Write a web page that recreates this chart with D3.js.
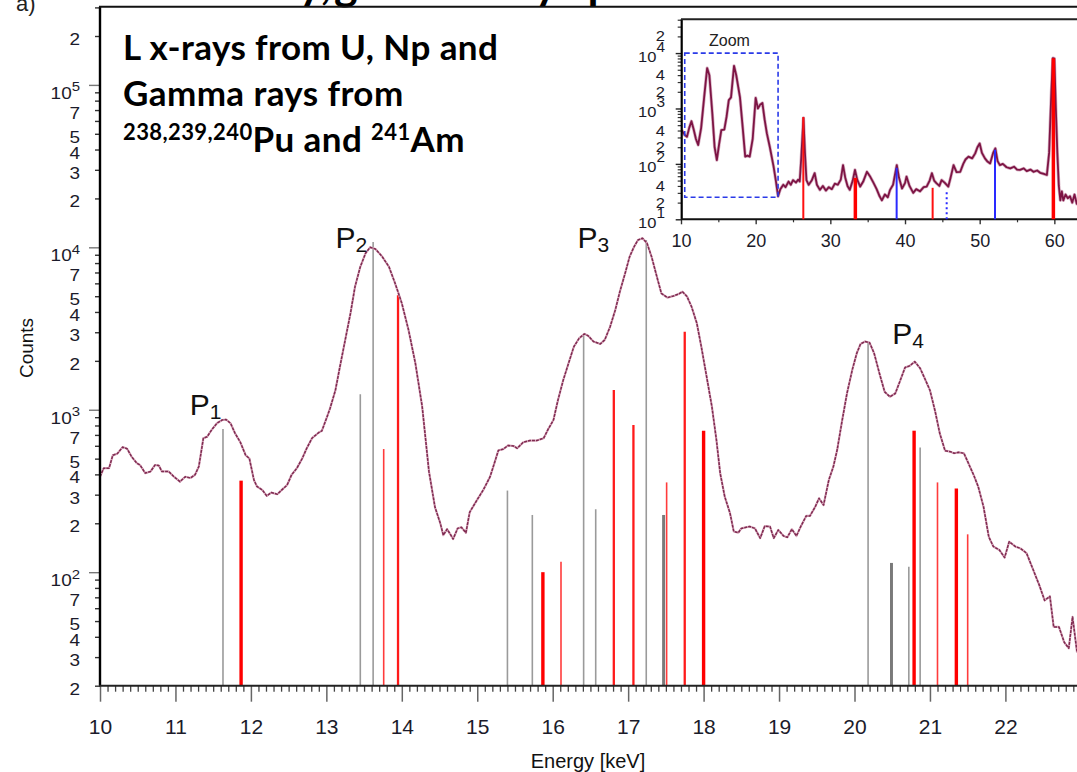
<!DOCTYPE html>
<html><head><meta charset="utf-8">
<script src="https://cdn.jsdelivr.net/npm/d3@7/dist/d3.min.js"></script>
<style>body{margin:0;background:#fff}svg{display:block}</style>
</head><body><svg id="c" width="1077" height="772"></svg>
<script>
// ---------------- main spectrum (energy keV, counts) ----------------
const specEnergy = [10.0,10.05,10.12,10.17,10.23,10.30,10.36,10.42,10.49,10.53,10.60,10.67,10.73,10.78,10.82,10.91,10.98,11.06,11.13,11.20,11.26,11.31,11.37,11.42,11.48,11.55,11.62,11.67,11.73,11.79,11.86,11.93,11.98,12.04,12.08,12.15,12.21,12.27,12.35,12.41,12.48,12.54,12.61,12.68,12.74,12.81,12.90,12.94,13.01,13.05,13.12,13.18,13.25,13.32,13.38,13.45,13.52,13.58,13.65,13.74,13.83,13.91,14.00,14.09,14.18,14.27,14.36,14.44,14.51,14.55,14.60,14.65,14.68,14.74,14.79,14.85,14.90,14.99,15.08,15.17,15.24,15.28,15.34,15.41,15.48,15.53,15.61,15.70,15.79,15.88,15.94,16.01,16.07,16.14,16.21,16.28,16.35,16.42,16.47,16.54,16.63,16.69,16.76,16.83,16.89,16.96,17.02,17.08,17.13,17.19,17.25,17.31,17.38,17.44,17.52,17.60,17.67,17.72,17.78,17.84,17.91,17.97,18.04,18.11,18.17,18.22,18.28,18.35,18.40,18.46,18.50,18.61,18.68,18.75,18.81,18.88,18.93,18.99,19.06,19.11,19.17,19.23,19.29,19.36,19.41,19.48,19.53,19.59,19.66,19.72,19.77,19.83,19.90,19.97,20.03,20.08,20.14,20.20,20.26,20.33,20.40,20.47,20.54,20.60,20.67,20.73,20.80,20.87,20.93,21.00,21.07,21.13,21.20,21.27,21.32,21.38,21.45,21.51,21.58,21.64,21.71,21.78,21.84,21.92,21.99,22.05,22.13,22.20,22.28,22.37,22.45,22.52,22.59,22.64,22.71,22.78,22.84,22.89,22.95];
const specCounts = [387,437,437,525,537,589,575,513,468,457,407,417,457,453,417,417,387,361,387,380,398,447,668,682,752,826,865,871,826,716,631,525,501,370,337,321,295,309,302,321,344,398,437,501,579,668,724,741,906,1023,1318,1841,2692,3926,5728,7586,9204,10000,9772,8770,7586,6026,4529,3090,1932,1047,417,251,200,169,184,169,160,186,189,175,234,275,321,387,490,562,571,603,598,579,631,646,646,668,759,865,1148,1524,1932,2443,2754,2931,2851,2630,2541,2692,3236,4121,5333,6918,8770,10116,11092,11376,10593,8770,6607,5212,4898,5012,5164,5333,4977,4315,3412,2443,1600,1045,652,406,292,231,178,175,186,191,186,162,192,191,162,182,167,164,184,167,192,222,222,253,285,259,370,447,565,826,1259,1758,2228,2541,2630,2588,2228,1679,1288,1202,1259,1489,1820,1862,1977,1799,1563,1318,973,716,560,552,540,547,540,468,396,336,253,165,144,137,123,154,144,140,131,103,83,67,71,46,46,37,34,53,32];

// emission lines (energy keV, relative counts)
const grayLineE = [11.63,13.45,13.62,15.40,15.73,16.41,16.57,17.24,20.18,20.72,20.87];
const grayLineC = [760,1245,10800,318,225,2880,244,11100,2630,108,585];
const grayBoldE = [17.47,20.49];
const grayBoldC = [225,114];
const redThickE = [11.87,15.87,18.00,20.79,21.35];
const redThickC = [366,100,743,743,328];
const redMedE = [13.95,16.81,17.07,17.75];
const redMedC = [5070,1325,806,3020];
const redThinE = [13.76,16.11,17.51,21.10,21.50];
const redThinC = [573,116,357,357,171];

// peak labels
const peakNames = ["1","2","3","4"];
const peakE = [11.19,13.12,16.33,20.50];
const peakC = [929,9860,9860,2541];

// axis ticks
const xTickLabels = [10,11,12,13,14,15,16,17,18,19,20,21,22];
const yTickLabels = [2e5,1e5,7e4,5e4,4e4,3e4,2e4,1e4,7e3,5e3,4e3,3e3,2e3,1e3,700,500,400,300,200,100,70,50,40,30,20];

// ---------------- inset spectrum ----------------
const insetEnergy = [10.1,10.5,10.8,11.1,11.4,11.7,12.0,12.3,12.7,13.1,13.5,13.8,14.2,14.5,14.8,15.1,15.4,15.8,16.1,16.4,16.7,17.1,17.4,17.9,18.3,18.6,18.9,19.2,19.6,20.0,20.3,20.6,20.9,21.2,21.5,21.9,22.4,22.7,23.0,23.3,23.7,24.0,24.4,24.7,25.0,25.4,25.7,25.9,26.1,26.4,26.6,26.8,27.1,27.5,27.9,28.2,28.6,29.0,29.4,29.8,30.2,30.6,31.0,31.4,31.7,32.0,32.3,32.6,33.0,33.3,33.6,34.0,34.4,34.9,35.3,35.8,36.2,36.6,36.9,37.3,37.7,38.0,38.4,38.9,39.2,39.6,40.0,40.2,40.6,41.1,41.5,42.0,42.5,42.9,43.3,43.6,43.9,44.2,44.6,44.9,45.3,45.8,46.1,46.5,46.9,47.4,47.8,48.1,48.5,49.0,49.4,49.7,50.0,50.3,50.7,51.0,51.4,51.8,52.1,52.4,52.7,53.1,53.6,54.1,54.6,55.0,55.4,55.9,56.3,56.8,57.2,57.7,58.1,58.6,59.0,59.3,59.6,59.8,60.0,60.2,60.4,60.6,60.8,61.0,61.2,61.5,61.8,62.1,62.4,62.7,63.0,63.3];
const insetCounts = [407,331,309,447,589,417,282,219,447,1585,5370,3981,794,200,117,224,407,417,708,1413,1585,5888,3981,1585,398,135,141,135,282,1549,1000,1175,1259,631,355,200,89,50,26,35,42,38,48,42,51,46,52,48,126,676,158,51,42,50,68,42,34,40,33,38,35,44,42,52,95,56,40,34,50,78,52,39,48,72,60,45,35,26,22,28,25,34,42,95,56,36,45,59,40,30,35,32,38,39,50,68,50,45,40,51,46,39,56,95,71,72,100,120,135,126,155,200,234,158,126,112,102,158,191,112,95,100,87,83,89,79,78,83,74,79,72,76,69,66,63,158,1995,8128,7943,1000,158,40,22,32,22,28,24,26,20,28,19,25];
const insetRedE = [26.38,43.7];
const insetRedC = [700,37];
const insetRedBoldE = [33.35,59.87];
const insetRedBoldC = [56,8100];
const insetBlueE = [38.88,52.05];
const insetBlueC = [85,180];
const insetBlueDotE = [45.58];
const insetBlueDotC = [34];
const zoomBoxE = [10.5,23.0];
const zoomBoxC = [25,10000];
const insetXTickLabels = [10,20,30,40,50,60];
const insetYTickLabels = [2e4,1e4,4e3,2e3,1e3,400,200,100,40,20,10];

// ---------------- drawing ----------------
const svg = d3.select("#c");
svg.append("rect").attr("width",1077).attr("height",772).attr("fill","#fff");
const AX = "Liberation Sans, Arial, sans-serif";

const x = d3.scaleLinear().domain([10,23.5]).range([100,100+13.5*75.45]);
const y = d3.scaleLog().domain([20,3.03e5]).range([685.7,6.7]);
const y0 = y(20);

function labelParts(v){
  const e = Math.log10(v);
  if (Math.abs(e-Math.round(e))<1e-9) return {base:"10",sup:String(Math.round(e))};
  const lead = Math.round(v/Math.pow(10,Math.floor(e)));
  return {base:String(lead),sup:null};
}

// cut-off heading & panel letter
svg.append("text").attr("x",16).attr("y",11).attr("font-family",AX).attr("font-size",22).attr("fill","#222").text("a)");
svg.append("text").attr("x",331).attr("y",-1).attr("text-anchor","end").attr("font-family","Lato, sans-serif").attr("font-weight",700).attr("font-size",45).text("L x-ray,");
svg.append("text").attr("x",334).attr("y",-1).attr("font-family","Lato, sans-serif").attr("font-weight",700).attr("font-size",45).text("gamma-ray spectrum");

// main y ticks
const yMinor = [];
[10,100,1000,10000,100000].forEach(d=>{for(let k=2;k<=9;k++){const v=d*k; if(v>=20&&v<=3.03e5) yMinor.push(v);} });
const yMajor = [100,1000,10000,100000];
const gy = svg.append("g").attr("transform","translate(100,0)");
gy.call(d3.axisLeft(y).tickValues(yMinor).tickSize(5).tickFormat(""));
gy.call(g=>g.selectAll(".tick line").attr("stroke","#333").attr("stroke-width",1.4));
const gy2 = svg.append("g").attr("transform","translate(100,0)");
gy2.call(d3.axisLeft(y).tickValues(yMajor).tickSize(11).tickFormat(""));
gy2.call(g=>g.selectAll(".tick line").attr("stroke","#777").attr("stroke-width",1.4));
svg.selectAll(".domain").remove();

yTickLabels.forEach(v=>{
  const p = labelParts(v);
  const ty = y(v);
  const t = svg.append("text").attr("text-anchor","end").attr("font-family",AX).attr("fill","#1b1b2a")
    .attr("transform",`translate(80,${p.sup? ty+14: ty+9}) scale(1.15,1)`).attr("font-size",16.5);
  t.append("tspan").text(p.base);
  if (p.sup) t.append("tspan").attr("dy",-7.5).attr("font-size",13).text(p.sup);
});

// main x ticks
const xMinor = d3.range(100,235).map(i=>i/10).filter(v=>Math.abs(v-Math.round(v))>1e-6);
const gx = svg.append("g").attr("transform",`translate(0,${y0})`);
gx.call(d3.axisBottom(x).tickValues(xMinor).tickSize(6).tickFormat(""));
gx.call(g=>{g.select(".domain").remove(); g.selectAll(".tick line").attr("stroke","#444").attr("stroke-width",1.3);});
const gx2 = svg.append("g").attr("transform",`translate(0,${y0})`);
gx2.call(d3.axisBottom(x).tickValues(xTickLabels).tickSize(16).tickPadding(17.5).tickFormat(d3.format("d")));
gx2.call(g=>{g.select(".domain").remove(); g.selectAll(".tick line").attr("stroke","#666").attr("stroke-width",1.5);
  g.selectAll(".tick text").attr("font-family",AX).attr("font-size",21).attr("fill","#1b1b2a");});

// vertical emission lines
function vlines(E,C,color,w,dash,xs,ys,base){
  E.forEach((e,i)=>{
    const l = svg.append("line").attr("x1",xs(e)).attr("x2",xs(e)).attr("y1",base).attr("y2",ys(C[i]))
      .attr("stroke",color).attr("stroke-width",w);
    if (dash) l.attr("stroke-dasharray",dash);
  });
}
vlines(grayLineE,grayLineC,"#9a9a9a",1.6,null,x,y,y0);
vlines(grayBoldE,grayBoldC,"#7a7a7a",3,null,x,y,y0);
vlines(redThinE,redThinC,"#ff3b3b",1.6,null,x,y,y0);
vlines(redMedE,redMedC,"#ff1a1a",2.3,null,x,y,y0);
vlines(redThickE,redThickC,"#ff0000",3.4,null,x,y,y0);

// main curve
const line = d3.line().x(d=>x(d[0])).y(d=>y(d[1]));
svg.append("path").datum(specEnergy.map((e,i)=>[e,specCounts[i]]))
  .attr("d",line).attr("fill","none").attr("stroke","#d9a9bd").attr("stroke-width",2.2).attr("stroke-linejoin","round");
svg.append("path").datum(specEnergy.map((e,i)=>[e,specCounts[i]]))
  .attr("d",line).attr("fill","none").attr("stroke","#7e2a50").attr("stroke-width",1.5).attr("stroke-dasharray","3,1").attr("stroke-linejoin","round");

// frame
svg.append("line").attr("x1",100).attr("x2",100).attr("y1",y(3.03e5)).attr("y2",y0).attr("stroke","#000").attr("stroke-width",2.4);
svg.append("line").attr("x1",99).attr("x2",1077).attr("y1",y(3.03e5)).attr("y2",y(3.03e5)).attr("stroke","#111").attr("stroke-width",2);
svg.append("line").attr("x1",99).attr("x2",1077).attr("y1",y0).attr("y2",y0).attr("stroke","#222").attr("stroke-width",2);

// peak labels
peakNames.forEach((n,i)=>{
  const t = svg.append("text").attr("x",x(peakE[i])).attr("y",y(peakC[i])).attr("font-family",AX).attr("font-size",30).attr("fill","#111");
  t.append("tspan").text("P");
  t.append("tspan").attr("dy",4).attr("font-size",21).text(n);
});

// title block
const TF = "Lato, sans-serif";
const tb = svg.append("g").attr("font-family",TF).attr("font-weight",700).attr("fill","#000");
tb.append("text").attr("x",123).attr("y",60).attr("font-size",35).attr("letter-spacing",0.4).text("L x-rays from U, Np and");
tb.append("text").attr("x",123).attr("y",106).attr("font-size",35).attr("letter-spacing",0.4).text("Gamma rays from");
const t3 = tb.append("text").attr("x",123).attr("y",152).attr("font-size",35).attr("letter-spacing",0.4);
t3.append("tspan").attr("font-size",22).attr("dy",-12).text("238,239,240");
t3.append("tspan").attr("dy",12).text("Pu and ");
t3.append("tspan").attr("font-size",22).attr("dy",-12).text("241");
t3.append("tspan").attr("dy",12).text("Am");

// axis titles
svg.append("text").attr("transform","translate(33,348) rotate(-90)").attr("text-anchor","middle")
  .attr("font-family",AX).attr("font-size",19).attr("fill","#111").text("Counts");
svg.append("text").attr("x",588).attr("y",768).attr("text-anchor","middle")
  .attr("font-family",AX).attr("font-size",20).attr("fill","#111").text("Energy [keV]");

// ---------------- inset ----------------
const xi = d3.scaleLinear().domain([10,70]).range([681,681+60*7.467]);
const yi = d3.scaleLog().domain([10,4.07e4]).range([219.3,19.3]);
const yi0 = yi(10);
const gi = svg.append("g");
// y ticks
const yiMinor = [];
[10,100,1000,10000].forEach(d=>{for(let k=2;k<=9;k++){const v=d*k; if(v<=4.07e4) yiMinor.push(v);} });
gi.append("g").attr("transform","translate(681.7,0)")
  .call(d3.axisLeft(yi).tickValues(yiMinor).tickSize(4).tickFormat(""))
  .call(g=>{g.select(".domain").remove(); g.selectAll(".tick line").attr("stroke","#333").attr("stroke-width",1.2);});
gi.append("g").attr("transform","translate(681.7,0)")
  .call(d3.axisLeft(yi).tickValues([10,100,1000,10000]).tickSize(6).tickFormat(""))
  .call(g=>{g.select(".domain").remove(); g.selectAll(".tick line").attr("stroke","#222").attr("stroke-width",1.4);});
insetYTickLabels.forEach(v=>{
  const p = labelParts(v);
  const ty = yi(v);
  const t = gi.append("text").attr("text-anchor","end").attr("font-family",AX).attr("fill","#1b1b2a")
    .attr("transform",`translate(665,${p.sup? ty+8.5: ty+5}) scale(1.1,1)`).attr("font-size",15);
  t.append("tspan").text(p.base);
  if (p.sup) t.append("tspan").attr("dy",-10).attr("font-size",14).text(p.sup);
});
// x ticks
gi.append("g").attr("transform",`translate(0,${yi0})`)
  .call(d3.axisBottom(xi).tickValues(d3.range(15,70,10)).tickSize(3).tickFormat(""))
  .call(g=>{g.select(".domain").remove(); g.selectAll(".tick line").attr("stroke","#333").attr("stroke-width",1.2);});
gi.append("g").attr("transform",`translate(0,${yi0})`)
  .call(d3.axisBottom(xi).tickValues(insetXTickLabels).tickSize(5).tickPadding(10).tickFormat(d3.format("d")))
  .call(g=>{g.select(".domain").remove(); g.selectAll(".tick line").attr("stroke","#333").attr("stroke-width",1.4);
    g.selectAll(".tick text").attr("font-family",AX).attr("font-size",18).attr("fill","#1b1b2a");});

// inset spectrum
const linei = d3.line().x(d=>xi(d[0])).y(d=>yi(d[1]));
const insetPts = insetEnergy.map((e,i)=>[e,insetCounts[i]]);
gi.append("path").datum(insetPts)
  .attr("d",linei).attr("fill","none").attr("stroke","#c58aa5").attr("stroke-width",3.2).attr("stroke-linejoin","round").attr("opacity",0.7);
gi.append("path").datum(insetPts)
  .attr("d",linei).attr("fill","none").attr("stroke","#7d1444").attr("stroke-width",1.8).attr("stroke-linejoin","round");
vlines(insetRedE,insetRedC,"#ff1010",2,null,xi,yi,yi0);
vlines(insetRedBoldE,insetRedBoldC,"#ff0000",3.5,null,xi,yi,yi0);
vlines(insetBlueE,insetBlueC,"#2a2aff",2,null,xi,yi,yi0);
vlines(insetBlueDotE,insetBlueDotC,"#2a2aff",2,"2,3",xi,yi,yi0);

// zoom box
gi.append("rect").attr("x",xi(zoomBoxE[0])).attr("y",yi(zoomBoxC[1]))
  .attr("width",xi(zoomBoxE[1])-xi(zoomBoxE[0])).attr("height",yi(zoomBoxC[0])-yi(zoomBoxC[1]))
  .attr("fill","none").attr("stroke","#2a3ae8").attr("stroke-width",1.6).attr("stroke-dasharray","5,3");
gi.append("text").attr("x",709).attr("y",46).attr("font-family",AX).attr("font-size",16).attr("fill","#222").text("Zoom");

// inset frame
gi.append("line").attr("x1",681.7).attr("x2",681.7).attr("y1",19.3).attr("y2",yi0).attr("stroke","#000").attr("stroke-width",2.2);
gi.append("line").attr("x1",681).attr("x2",1077).attr("y1",19.3).attr("y2",19.3).attr("stroke","#222").attr("stroke-width",2);
gi.append("line").attr("x1",681).attr("x2",1077).attr("y1",yi0).attr("y2",yi0).attr("stroke","#111").attr("stroke-width",2);
</script></body></html>
